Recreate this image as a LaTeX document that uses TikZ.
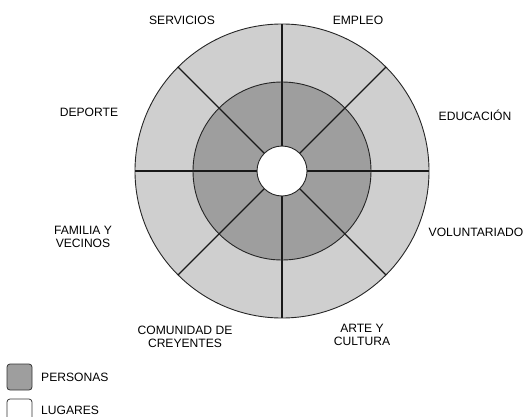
\documentclass[tikz,border=0pt]{standalone}
\usepackage{fontspec}
\setmainfont{Liberation Sans}
\usetikzlibrary{calc}
\begin{document}
\begin{tikzpicture}[x=1pt,y=1pt,
  lbl/.style={font=\fontsize{12.1}{13.4}\selectfont, align=center, inner sep=0pt},
  divider/.style={line width=1.1pt, black!90},
  ringline/.style={line width=0.9pt, black!85},
  legbox/.style={rounded corners=3pt, line width=0.8pt, draw=black!80}]
\clip (0,0) rectangle (524,416);
\coordinate (c) at (282,245);
% rings
\fill[black!19] (c) circle (147);
\fill[black!38] (c) circle (89);
\fill[white] (c) circle (25);
% dividers
\foreach \a in {0,45,...,315}
  \draw[divider] ($(c)+(\a:25)$) -- ($(c)+(\a:147)$);
\draw[ringline] (c) circle (147);
\draw[ringline] (c) circle (89);
\draw[ringline] (c) circle (25);
% labels
\node[lbl] (serv) at (182,396) {SERVICIOS};
\node[lbl] (empl) at (358,396) {EMPLEO};
\node[lbl] (educ) at (475,301) {EDUCACIÓN};
\node[lbl] (volu) at (476,184) {VOLUNTARIADO};
\node[lbl] (depo) at (89,304) {DEPORTE};
\node[lbl] (fami) at (83,179) {FAMILIA Y\\VECINOS};
\node[lbl] (comu) at (185,79) {COMUNIDAD DE\\CREYENTES};
\node[lbl] (arte) at (362,81) {ARTE Y\\CULTURA};
% legend
\draw[legbox, fill=black!38] (7,26) rectangle (32,52);
\node[lbl, anchor=west] (pers) at (41,39) {PERSONAS};
\draw[legbox, fill=white] (7,-12) rectangle (32,17);
\node[lbl, anchor=west] (luga) at (41,6) {LUGARES};
\end{tikzpicture}
\end{document}
